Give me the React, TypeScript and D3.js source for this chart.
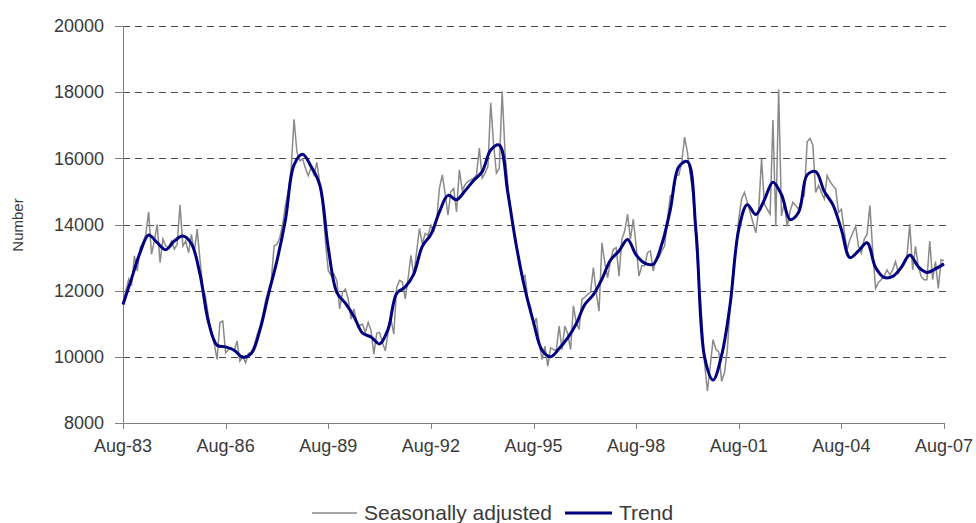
import React from "react";
import * as d3 from "d3";

// monthly, Aug-83 .. Aug-07
const seasonallyAdjusted = [
  11580, 12000, 12350, 12150, 13050, 12600, 13300, 13450, 13700, 14380, 13100, 13500,
  14000, 12850, 13560, 13350, 13300, 13500, 13250, 13400, 14590, 13350, 13500, 13150,
  13700, 13150, 13860, 12950, 12100, 11800, 11200, 10700, 10400, 9920, 11030, 11080,
  10120, 10220, 10270, 10170, 10480, 9870, 10020, 9820, 10100, 10150, 10350, 10650,
  10900, 11250, 11700, 12000, 12300, 13350, 13400, 13600, 14000, 14600, 15000, 15700,
  17180, 16200, 15930, 15980, 15700, 15470, 15730, 15500, 15880, 15270, 14600, 13500,
  12610, 12460, 12500, 12300, 11450, 11950, 12050, 11750, 11140, 11450, 11040, 10940,
  10990, 10740, 11040, 10800, 10080, 10710, 10740, 10430, 10180, 10740, 11140, 10690,
  12100, 12310, 12260, 11750, 12360, 13070, 12460, 13170, 13880, 13420, 13730, 13670,
  13980, 13800, 14100, 15090, 15500, 14940, 14280, 14990, 15090, 14380, 15650, 15040,
  15200, 15300, 15350, 15400, 15500, 16310, 15400, 15550, 15750, 17680, 16410, 15550,
  15700, 18030, 16200, 15200, 14380, 13900, 13370, 12800, 12360, 12460, 11750, 11500,
  10930, 11180, 10420, 9920, 10320, 9720, 10270, 10220, 10200, 10930, 10220, 10930,
  10700, 10220, 11540, 11030, 10830, 11740, 11800, 11890, 11950, 12700, 11940, 11380,
  13450, 12850, 12390, 12900, 13250, 13300, 12440, 13560, 13800, 14310, 13560, 14160,
  13350, 12440, 12750, 12750, 13150, 13200, 12600, 12950, 13000, 13200, 13350, 14160,
  14870, 14920, 15470, 15500, 15880, 16640, 16180, 15500, 14870, 13450, 12300, 11230,
  9820, 8960, 9720, 10520, 10220, 10150, 9260, 9520, 10220, 11540, 12600, 13300,
  14160, 14770, 14970, 14670, 14360, 14060, 13750, 14460, 15990, 14620, 14460, 14310,
  17160, 13950, 18080, 14260, 14670, 13950, 14400, 14670, 14570, 14460, 14770, 14870,
  16500, 16600, 16400, 14970, 15180, 14970, 14770, 15480, 15300, 15180, 15080, 14360,
  14460, 13800, 13240, 13550, 13750, 13950, 13340, 13140, 13550, 13700, 14570, 13200,
  12070, 12250, 12330, 12430, 12630, 12480, 12630, 12880, 12530, 12700, 12880, 13040,
  14010, 12630, 13340, 12730, 12430, 12330, 12330, 13500, 12330, 12880, 12070, 12940,
  12900,
];

// quarterly (every 3rd month from Aug-83)
const trend = [
  11580, 12370, 13150, 13680,
  13450, 13240, 13500, 13650,
  13420, 12500, 11050, 10350,
  10300, 10200, 9990, 10100,
  10800, 11880, 12900, 14150,
  15800, 16120, 15750, 15200,
  13300, 11950, 11620, 11220,
  10720, 10600, 10390, 10840,
  11920, 12110, 12500, 13340,
  13700, 14380, 14880, 14750,
  15020, 15330, 15600, 16250,
  16400, 14950, 13350, 12050,
  11050, 10200, 10000, 10250,
  10570, 11000, 11580, 11880,
  12350, 12920, 13200, 13550,
  13080, 12830, 12800, 13400,
  14450, 15750, 15900, 13800,
  10000, 9300, 10050, 11600,
  13850, 14600, 14300, 14750,
  15280, 14900, 14150, 14370,
  15500, 15600, 15000, 14600,
  13850, 13000, 13200, 13450,
  12700, 12400, 12430, 12700,
  13080, 12720, 12550, 12660,
  12810,
];

const xTickLabels = ["Aug-83", "Aug-86", "Aug-89", "Aug-92", "Aug-95", "Aug-98", "Aug-01", "Aug-04", "Aug-07"];
const yTicks = [8000, 10000, 12000, 14000, 16000, 18000, 20000];

const font = "'Liberation Sans', Arial, sans-serif";
const textColor = "#3a3a3a";

export default function App() {
  const width = 976;
  const height = 523;
  const left = 123, right = 944, top = 26, bottom = 423;

  const x = d3.scaleLinear().domain([0, 288]).range([left, right]);
  const y = d3.scaleLinear().domain([8000, 20000]).range([bottom, top]);

  const saLine = d3.line<number>()
    .x((d, i) => x(i))
    .y((d) => y(d));

  const trendLine = d3.line<number>()
    .x((d, i) => x(i * 3))
    .y((d) => y(d))
    .curve(d3.curveCatmullRom.alpha(0.5));

  return (
    <svg width={width} height={height} style={{ position: "absolute", left: 0, top: 0 }}>
      <rect width={width} height={height} fill="#fff" />
      {yTicks.filter((t) => t > 8000).map((t) => (
        <line key={"g" + t} x1={left} x2={right + 2} y1={Math.round(y(t)) + 0.5} y2={Math.round(y(t)) + 0.5}
          stroke="#4a4a4a" strokeWidth={1} strokeDasharray="7,5" />
      ))}
      <line x1={left + 0.5} x2={left + 0.5} y1={top} y2={bottom} stroke="#808080" />
      <line x1={left} x2={right} y1={bottom + 0.5} y2={bottom + 0.5} stroke="#808080" />
      {yTicks.map((t) => (
        <g key={"y" + t}>
          <line x1={left - 8} x2={left} y1={Math.round(y(t)) + 0.5} y2={Math.round(y(t)) + 0.5} stroke="#808080" />
          <text x={104} y={y(t)} dy="0.35em" textAnchor="end" fontFamily={font} fontSize={18} fill={textColor}>{t}</text>
        </g>
      ))}
      {xTickLabels.map((lab, k) => (
        <g key={lab}>
          <line x1={Math.round(x(k * 36)) + 0.5} x2={Math.round(x(k * 36)) + 0.5} y1={bottom} y2={bottom + 6} stroke="#808080" />
          <text x={x(k * 36)} y={452} textAnchor="middle" fontFamily={font} fontSize={18} fill={textColor}>{lab}</text>
        </g>
      ))}
      <text transform={`translate(23,225) rotate(-90)`} textAnchor="middle" fontFamily={font} fontSize={15} fill={textColor}>Number</text>

      <path d={saLine(seasonallyAdjusted) || ""} fill="none" stroke="#8a8a8a" strokeWidth={1.5} />
      <path d={trendLine(trend) || ""} fill="none" stroke="#000080" strokeWidth={3} />

      <g>
        <line x1={312} x2={357} y1={513} y2={513} stroke="#8a8a8a" strokeWidth={1.5} />
        <text x={364} y={520} fontFamily={font} fontSize={21} fill={textColor}>Seasonally adjusted</text>
        <line x1={565} x2={612} y1={513} y2={513} stroke="#000080" strokeWidth={3} />
        <text x={619} y={520} fontFamily={font} fontSize={21} fill={textColor}>Trend</text>
      </g>
    </svg>
  );
}
